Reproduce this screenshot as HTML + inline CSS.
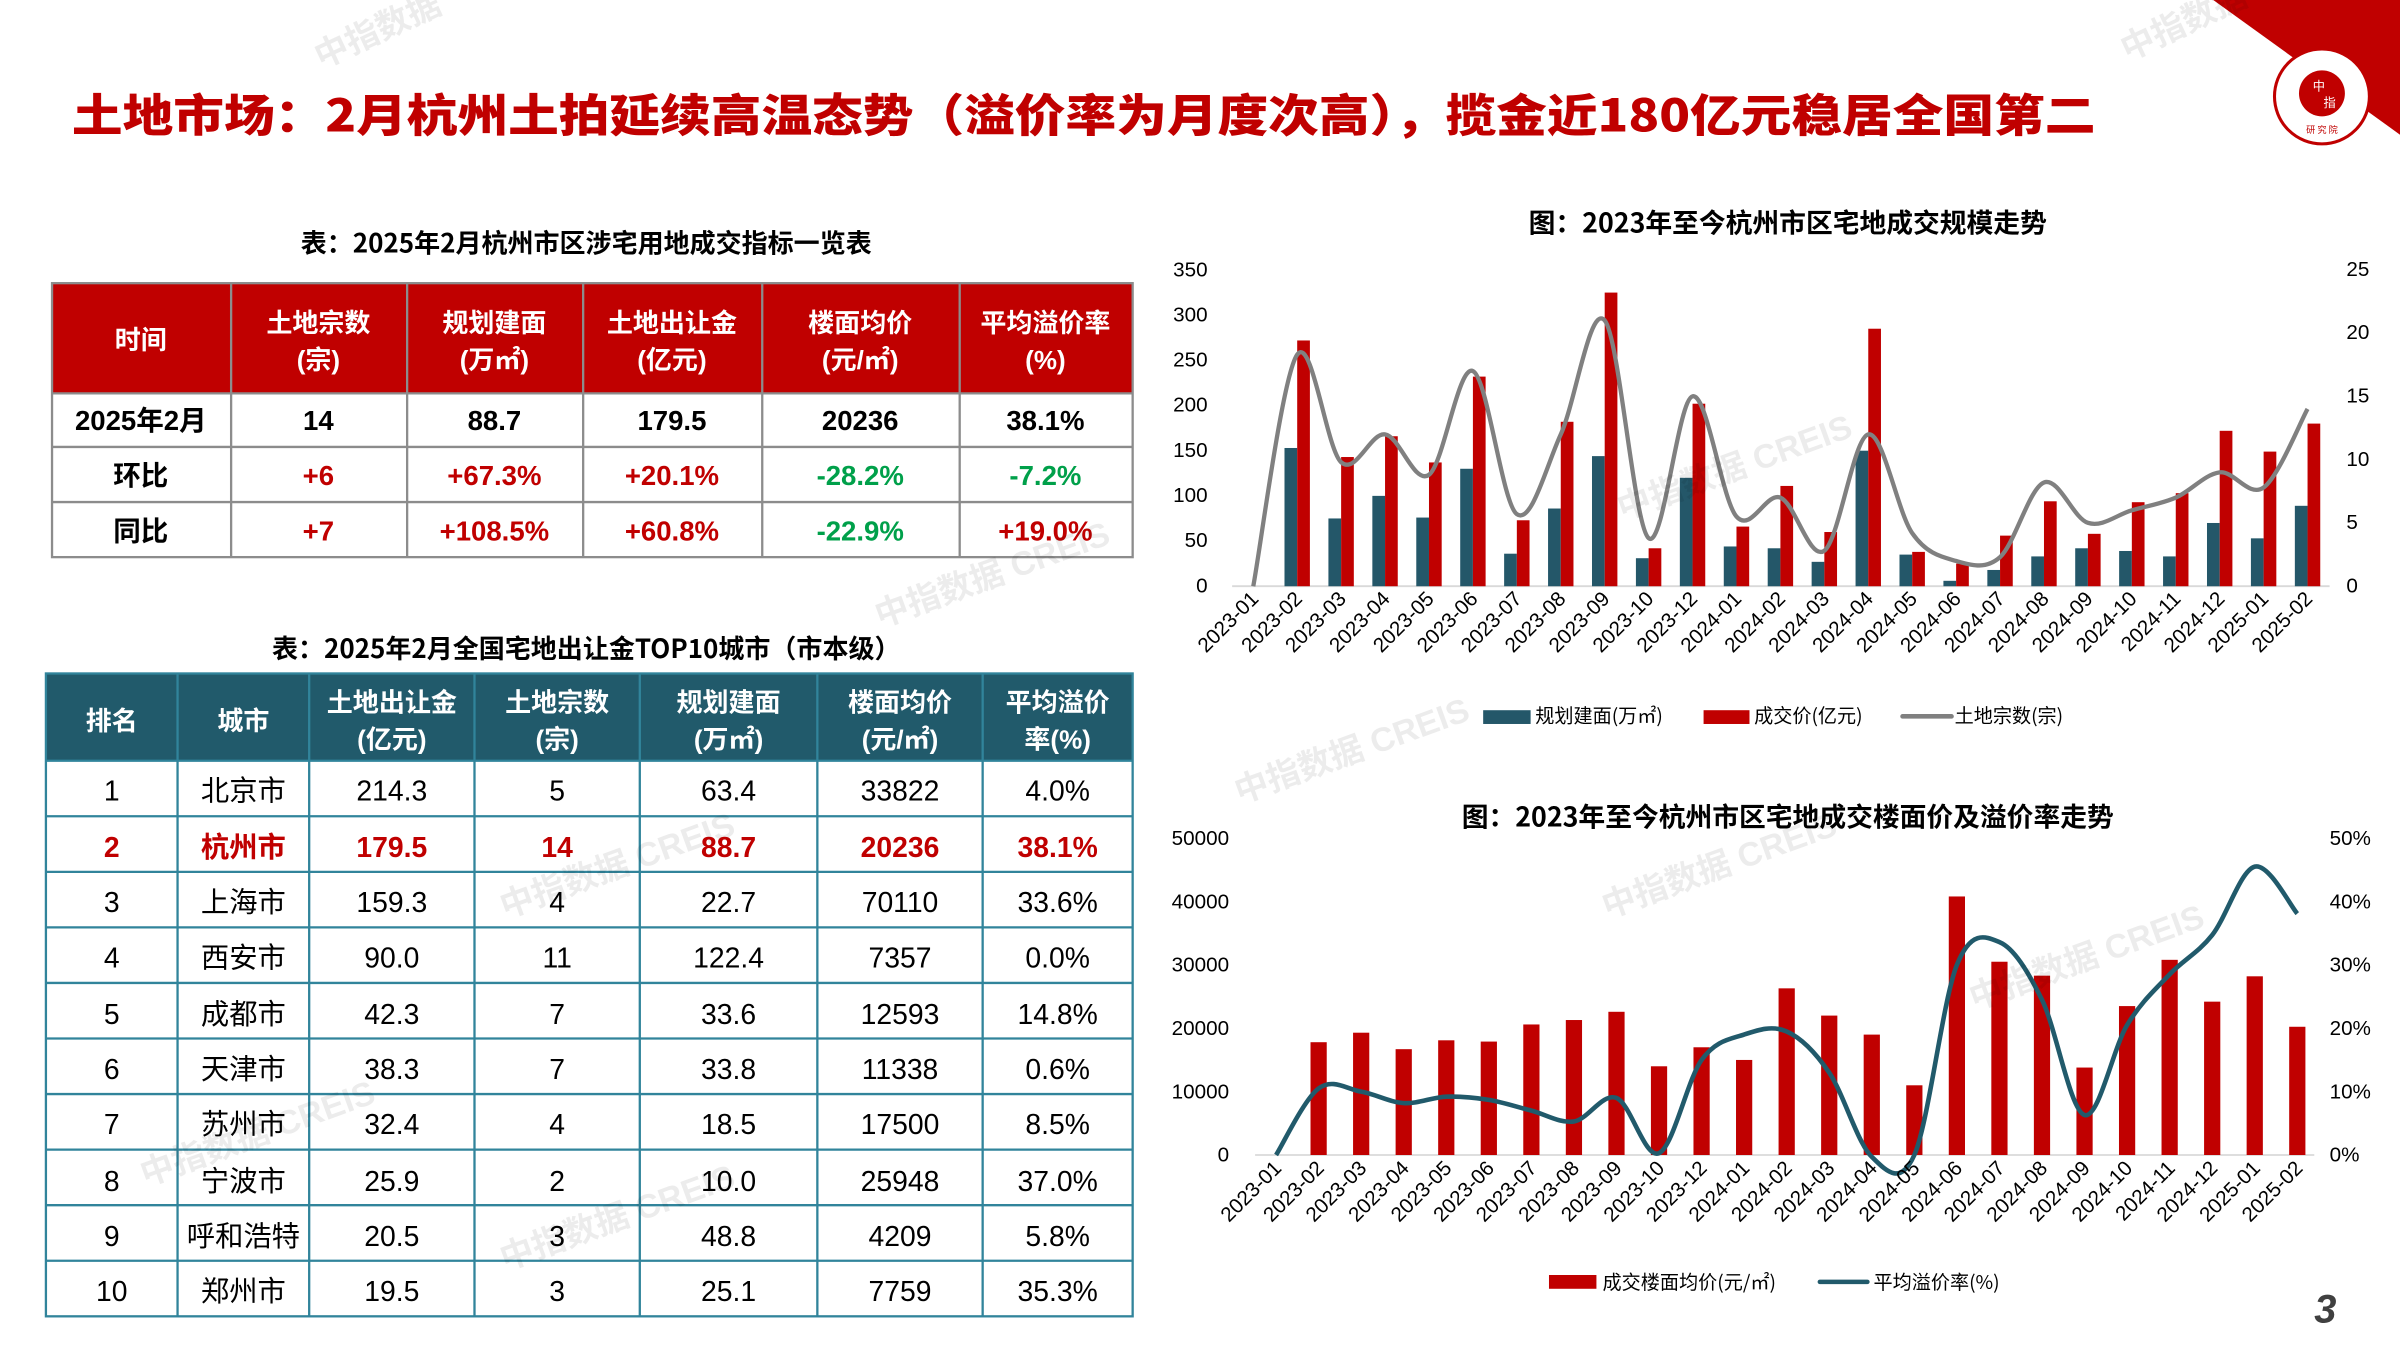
<!DOCTYPE html>
<html><head><meta charset="utf-8"><style>
html,body{margin:0;padding:0;background:#fff;}
svg{display:block;}
text{font-family:"Liberation Sans","Noto Sans CJK SC",sans-serif;}
.cjk{font-family:"Noto Sans CJK SC","Liberation Sans",sans-serif;}
.ax{font-size:13.5px;fill:#000;}
.xl{font-size:13.5px;fill:#000;}
.th{font-size:17px;font-weight:bold;fill:#fff;}
.t1{font-size:18px;font-weight:bold;fill:#000;}
.t2{font-size:18.5px;fill:#000;font-family:"Liberation Sans Narrow","Liberation Sans","Noto Sans CJK SC",sans-serif;}
.wm{font-size:22px;font-weight:bold;fill:#000;opacity:0.07;}
</style></head><body>
<svg id="s" width="2400" height="1350" viewBox="0 0 1568 882" xmlns="http://www.w3.org/2000/svg">
<rect width="1568" height="882" fill="#fff"/>
<!-- corner -->
<polygon points="1446,0 1568,0 1568,88" fill="#c00000"/>
<circle cx="1517" cy="63" r="31" fill="#fff" stroke="#c00000" stroke-width="2"/>
<circle cx="1517" cy="61" r="15" fill="#c00000"/>
<text x="1517" y="87" font-size="6" fill="#c00000" text-anchor="middle" class="cjk">研 究 院</text>
<text x="1511" y="59" font-size="8" fill="#fff" class="cjk">中</text>
<text x="1518" y="70" font-size="8" fill="#fff" class="cjk">指</text>
<!-- title -->
<text x="47" y="86" class="cjk" font-size="29.5" font-weight="900" fill="#c00000" textLength="1322" lengthAdjust="spacingAndGlyphs">土地市场：2月杭州土拍延续高温态势（溢价率为月度次高），揽金近180亿元稳居全国第二</text>

<!-- TABLE 1 -->
<text x="383" y="165" class="cjk" font-size="17" font-weight="bold" text-anchor="middle">表：2025年2月杭州市区涉宅用地成交指标一览表</text>
<rect x="34" y="185" width="706" height="72" fill="#c00000"/>
<g stroke="#8c8c8c" stroke-width="1.5" fill="none">
<rect x="34" y="185" width="706" height="179"/>
<line x1="34" y1="257" x2="740" y2="257"/><line x1="34" y1="292" x2="740" y2="292"/><line x1="34" y1="328" x2="740" y2="328"/>
<line x1="151" y1="185" x2="151" y2="364"/><line x1="266" y1="185" x2="266" y2="364"/><line x1="381" y1="185" x2="381" y2="364"/><line x1="498" y1="185" x2="498" y2="364"/><line x1="627" y1="185" x2="627" y2="364"/>
</g>
<g class="cjk" text-anchor="middle">
<text x="92" y="228" class="th">时间</text>
<text x="208" y="217" class="th">土地宗数</text><text x="208" y="241" class="th">(宗)</text>
<text x="323" y="217" class="th">规划建面</text><text x="323" y="241" class="th">(万㎡)</text>
<text x="439" y="217" class="th">土地出让金</text><text x="439" y="241" class="th">(亿元)</text>
<text x="562" y="217" class="th">楼面均价</text><text x="562" y="241" class="th">(元/㎡)</text>
<text x="683" y="217" class="th">平均溢价率</text><text x="683" y="241" class="th">(%)</text>
<text x="92" y="281" class="t1">2025年2月</text>
<text x="208" y="281" class="t1">14</text><text x="323" y="281" class="t1">88.7</text><text x="439" y="281" class="t1">179.5</text><text x="562" y="281" class="t1">20236</text><text x="683" y="281" class="t1">38.1%</text>
<text x="92" y="317" class="t1">环比</text>
<text x="208" y="317" class="t1" style="fill:#c00000">+6</text><text x="323" y="317" class="t1" style="fill:#c00000">+67.3%</text><text x="439" y="317" class="t1" style="fill:#c00000">+20.1%</text><text x="562" y="317" class="t1" style="fill:#00a04a">-28.2%</text><text x="683" y="317" class="t1" style="fill:#00a04a">-7.2%</text>
<text x="92" y="353" class="t1">同比</text>
<text x="208" y="353" class="t1" style="fill:#c00000">+7</text><text x="323" y="353" class="t1" style="fill:#c00000">+108.5%</text><text x="439" y="353" class="t1" style="fill:#c00000">+60.8%</text><text x="562" y="353" class="t1" style="fill:#00a04a">-22.9%</text><text x="683" y="353" class="t1" style="fill:#c00000">+19.0%</text>
</g>

<!-- TABLE 2 -->
<text x="383" y="430" class="cjk" font-size="17" font-weight="bold" text-anchor="middle">表：2025年2月全国宅地出让金TOP10城市（市本级）</text>
<rect x="30" y="440" width="710" height="57" fill="#215a6b"/>
<g id="t2lines" stroke="#31849b" stroke-width="1.5" fill="none">
<rect x="30" y="440" width="710" height="420"/>
<line x1="116" y1="440" x2="116" y2="860"/><line x1="202" y1="440" x2="202" y2="860"/><line x1="310" y1="440" x2="310" y2="860"/><line x1="418" y1="440" x2="418" y2="860"/><line x1="534" y1="440" x2="534" y2="860"/><line x1="642" y1="440" x2="642" y2="860"/>
</g>
<g class="cjk" text-anchor="middle">
<text x="73" y="477" class="th">排名</text>
<text x="159" y="477" class="th">城市</text>
<text x="256" y="465" class="th">土地出让金</text><text x="256" y="489" class="th">(亿元)</text>
<text x="364" y="465" class="th">土地宗数</text><text x="364" y="489" class="th">(宗)</text>
<text x="476" y="465" class="th">规划建面</text><text x="476" y="489" class="th">(万㎡)</text>
<text x="588" y="465" class="th">楼面均价</text><text x="588" y="489" class="th">(元/㎡)</text>
<text x="691" y="465" class="th">平均溢价</text><text x="691" y="489" class="th">率(%)</text>
</g>

<!-- CHART 1 -->
<text x="1168" y="152" class="cjk" font-size="17.5" font-weight="bold" text-anchor="middle">图：2023年至今杭州市区宅地成交规模走势</text>
<line x1="805" y1="383" x2="1522" y2="383" stroke="#d9d9d9" stroke-width="1.2"/>
<g id="c1"></g>
<g class="ax" text-anchor="end">
<text x="789" y="387">0</text><text x="789" y="357.5">50</text><text x="789" y="328">100</text><text x="789" y="298.5">150</text><text x="789" y="269">200</text><text x="789" y="239.5">250</text><text x="789" y="210">300</text><text x="789" y="180.5">350</text>
</g>
<g class="ax">
<text x="1533" y="387">0</text><text x="1533" y="345.6">5</text><text x="1533" y="304.3">10</text><text x="1533" y="263">15</text><text x="1533" y="221.6">20</text><text x="1533" y="180.3">25</text>
</g>
<rect x="969" y="464" width="31" height="9" fill="#245769"/>
<text x="1003" y="472" class="cjk" font-size="12.5">规划建面(万㎡)</text>
<rect x="1113" y="464" width="30" height="9" fill="#c00000"/>
<text x="1146" y="472" class="cjk" font-size="12.5">成交价(亿元)</text>
<line x1="1243" y1="468" x2="1275" y2="468" stroke="#808080" stroke-width="3" stroke-linecap="round"/>
<text x="1277" y="472" class="cjk" font-size="12.5">土地宗数(宗)</text>

<!-- CHART 2 -->
<text x="1168" y="540" class="cjk" font-size="17.5" font-weight="bold" text-anchor="middle">图：2023年至今杭州市区宅地成交楼面价及溢价率走势</text>
<line x1="820" y1="754.6" x2="1512" y2="754.6" stroke="#d9d9d9" stroke-width="1.2"/>
<g id="c2"></g>
<g class="ax" text-anchor="end">
<text x="803" y="759">0</text><text x="803" y="717.6">10000</text><text x="803" y="676.2">20000</text><text x="803" y="634.8">30000</text><text x="803" y="593.4">40000</text><text x="803" y="552">50000</text>
</g>
<g class="ax">
<text x="1522" y="759">0%</text><text x="1522" y="717.6">10%</text><text x="1522" y="676.2">20%</text><text x="1522" y="634.8">30%</text><text x="1522" y="593.4">40%</text><text x="1522" y="552">50%</text>
</g>
<rect x="1012" y="833" width="31" height="9" fill="#c00000"/>
<text x="1047" y="842" class="cjk" font-size="12.5">成交楼面均价(元/㎡)</text>
<line x1="1189" y1="837.5" x2="1220" y2="837.5" stroke="#215a6b" stroke-width="3" stroke-linecap="round"/>
<text x="1224" y="842" class="cjk" font-size="12.5">平均溢价率(%)</text>

<text x="1512" y="864" font-size="26" font-weight="bold" font-style="italic" fill="#404040">3</text>

<!-- watermarks -->
<g class="cjk">
<text class="wm" transform="translate(210,45) rotate(-25)" font-size="13">中指数据</text>
<text class="wm" transform="translate(1390,40) rotate(-25)" font-size="13">中指数据</text>
<text class="wm" transform="translate(575,410) rotate(-20)">中指数据 CREIS</text>
<text class="wm" transform="translate(810,525) rotate(-20)">中指数据 CREIS</text>
<text class="wm" transform="translate(1050,600) rotate(-20)">中指数据 CREIS</text>
<text class="wm" transform="translate(1290,660) rotate(-20)">中指数据 CREIS</text>
<text class="wm" transform="translate(330,600) rotate(-20)">中指数据 CREIS</text>
<text class="wm" transform="translate(330,830) rotate(-20)">中指数据 CREIS</text>
<text class="wm" transform="translate(1060,340) rotate(-20)">中指数据 CREIS</text>
<text class="wm" transform="translate(95,775) rotate(-20)">中指数据 CREIS</text>
</g>

<!-- static x labels -->
<g class="xl" text-anchor="end">
<text transform="translate(823,392) rotate(-45)">2023-01</text>
<text transform="translate(851.5,392) rotate(-45)">2023-02</text>
<text transform="translate(880.2,392) rotate(-45)">2023-03</text>
<text transform="translate(908.9,392) rotate(-45)">2023-04</text>
<text transform="translate(937.6,392) rotate(-45)">2023-05</text>
<text transform="translate(966.3,392) rotate(-45)">2023-06</text>
<text transform="translate(995,392) rotate(-45)">2023-07</text>
<text transform="translate(1023.7,392) rotate(-45)">2023-08</text>
<text transform="translate(1052.4,392) rotate(-45)">2023-09</text>
<text transform="translate(1081.1,392) rotate(-45)">2023-10</text>
<text transform="translate(1109.8,392) rotate(-45)">2023-12</text>
<text transform="translate(1138.5,392) rotate(-45)">2024-01</text>
<text transform="translate(1167.2,392) rotate(-45)">2024-02</text>
<text transform="translate(1195.9,392) rotate(-45)">2024-03</text>
<text transform="translate(1224.6,392) rotate(-45)">2024-04</text>
<text transform="translate(1253.3,392) rotate(-45)">2024-05</text>
<text transform="translate(1282,392) rotate(-45)">2024-06</text>
<text transform="translate(1310.7,392) rotate(-45)">2024-07</text>
<text transform="translate(1339.4,392) rotate(-45)">2024-08</text>
<text transform="translate(1368.1,392) rotate(-45)">2024-09</text>
<text transform="translate(1396.8,392) rotate(-45)">2024-10</text>
<text transform="translate(1425.5,392) rotate(-45)">2024-11</text>
<text transform="translate(1454.2,392) rotate(-45)">2024-12</text>
<text transform="translate(1482.9,392) rotate(-45)">2025-01</text>
<text transform="translate(1511.6,392) rotate(-45)">2025-02</text>
</g>
<g class="xl" text-anchor="end">
<text transform="translate(838,764) rotate(-45)">2023-01</text>
<text transform="translate(865.8,764) rotate(-45)">2023-02</text>
<text transform="translate(893.6,764) rotate(-45)">2023-03</text>
<text transform="translate(921.4,764) rotate(-45)">2023-04</text>
<text transform="translate(949.2,764) rotate(-45)">2023-05</text>
<text transform="translate(977,764) rotate(-45)">2023-06</text>
<text transform="translate(1004.8,764) rotate(-45)">2023-07</text>
<text transform="translate(1032.6,764) rotate(-45)">2023-08</text>
<text transform="translate(1060.4,764) rotate(-45)">2023-09</text>
<text transform="translate(1088.2,764) rotate(-45)">2023-10</text>
<text transform="translate(1116,764) rotate(-45)">2023-12</text>
<text transform="translate(1143.8,764) rotate(-45)">2024-01</text>
<text transform="translate(1171.6,764) rotate(-45)">2024-02</text>
<text transform="translate(1199.4,764) rotate(-45)">2024-03</text>
<text transform="translate(1227.2,764) rotate(-45)">2024-04</text>
<text transform="translate(1255,764) rotate(-45)">2024-05</text>
<text transform="translate(1282.8,764) rotate(-45)">2024-06</text>
<text transform="translate(1310.6,764) rotate(-45)">2024-07</text>
<text transform="translate(1338.4,764) rotate(-45)">2024-08</text>
<text transform="translate(1366.2,764) rotate(-45)">2024-09</text>
<text transform="translate(1394,764) rotate(-45)">2024-10</text>
<text transform="translate(1421.8,764) rotate(-45)">2024-11</text>
<text transform="translate(1449.6,764) rotate(-45)">2024-12</text>
<text transform="translate(1477.4,764) rotate(-45)">2025-01</text>
<text transform="translate(1505.2,764) rotate(-45)">2025-02</text>
</g>

<!-- table 2 body -->
<g class="t2" text-anchor="middle">
<text x="73" y="523">1</text><text x="159" y="523" class="cjk">北京市</text><text x="256" y="523">214.3</text><text x="364" y="523">5</text><text x="476" y="523">63.4</text><text x="588" y="523">33822</text><text x="691" y="523">4.0%</text>
<g style="font-weight:bold">
<text x="73" y="560" style="fill:#c00000">2</text><text x="159" y="560" class="cjk" style="fill:#c00000">杭州市</text><text x="256" y="560" style="fill:#c00000">179.5</text><text x="364" y="560" style="fill:#c00000">14</text><text x="476" y="560" style="fill:#c00000">88.7</text><text x="588" y="560" style="fill:#c00000">20236</text><text x="691" y="560" style="fill:#c00000">38.1%</text>
</g>
<text x="73" y="596">3</text><text x="159" y="596" class="cjk">上海市</text><text x="256" y="596">159.3</text><text x="364" y="596">4</text><text x="476" y="596">22.7</text><text x="588" y="596">70110</text><text x="691" y="596">33.6%</text>
<text x="73" y="632">4</text><text x="159" y="632" class="cjk">西安市</text><text x="256" y="632">90.0</text><text x="364" y="632">11</text><text x="476" y="632">122.4</text><text x="588" y="632">7357</text><text x="691" y="632">0.0%</text>
<text x="73" y="669">5</text><text x="159" y="669" class="cjk">成都市</text><text x="256" y="669">42.3</text><text x="364" y="669">7</text><text x="476" y="669">33.6</text><text x="588" y="669">12593</text><text x="691" y="669">14.8%</text>
<text x="73" y="705">6</text><text x="159" y="705" class="cjk">天津市</text><text x="256" y="705">38.3</text><text x="364" y="705">7</text><text x="476" y="705">33.8</text><text x="588" y="705">11338</text><text x="691" y="705">0.6%</text>
<text x="73" y="741">7</text><text x="159" y="741" class="cjk">苏州市</text><text x="256" y="741">32.4</text><text x="364" y="741">4</text><text x="476" y="741">18.5</text><text x="588" y="741">17500</text><text x="691" y="741">8.5%</text>
<text x="73" y="778">8</text><text x="159" y="778" class="cjk">宁波市</text><text x="256" y="778">25.9</text><text x="364" y="778">2</text><text x="476" y="778">10.0</text><text x="588" y="778">25948</text><text x="691" y="778">37.0%</text>
<text x="73" y="814">9</text><text x="159" y="814" class="cjk">呼和浩特</text><text x="256" y="814">20.5</text><text x="364" y="814">3</text><text x="476" y="814">48.8</text><text x="588" y="814">4209</text><text x="691" y="814">5.8%</text>
<text x="73" y="850">10</text><text x="159" y="850" class="cjk">郑州市</text><text x="256" y="850">19.5</text><text x="364" y="850">3</text><text x="476" y="850">25.1</text><text x="588" y="850">7759</text><text x="691" y="850">35.3%</text>
</g>
</svg>
<script>
(function(){
var NS="http://www.w3.org/2000/svg";
function el(p,t,a){var e=document.createElementNS(NS,t);for(var k in a)e.setAttribute(k,a[k]);p.appendChild(e);return e;}
var tl=document.getElementById("t2lines");
for(var r=0;r<10;r++){var y=497+r*36.3;el(tl,"line",{x1:30,y1:y,x2:740,y2:y});}
function smooth(pts){var d="M"+pts[0][0]+","+pts[0][1];
for(var i=0;i<pts.length-1;i++){var p0=pts[i-1]||pts[i],p1=pts[i],p2=pts[i+1],p3=pts[i+2]||p2;
var c1x=p1[0]+(p2[0]-p0[0])/6,c1y=p1[1]+(p2[1]-p0[1])/6,c2x=p2[0]-(p3[0]-p1[0])/6,c2y=p2[1]-(p3[1]-p1[1])/6;
d+=" C"+c1x.toFixed(1)+","+c1y.toFixed(1)+" "+c2x.toFixed(1)+","+c2y.toFixed(1)+" "+p2[0].toFixed(1)+","+p2[1].toFixed(1);}return d;}
var g1=document.getElementById("c1");
var blue=[0,153,75,100,76,130,36,86,144,31,120,44,42,27,150,35,6,18,33,42,39,33,70,53,89];
var red=[0,272,143,166,137,232,73,182,325,42,202,66,111,60,285,38,25,56,94,58,93,103,172,149,180];
var cnt=[0,18.3,9.8,12,8.8,17,5.7,12,21,3.8,15,5.5,7,2.8,12,4.2,2,2.3,8.2,5,6,7,9,7.8,14];
var y0=383,s1=0.5903,s2=8.27,pts=[];
for(var i=0;i<25;i++){var cx=818.8+28.7*i;
if(blue[i])el(g1,"rect",{x:cx-8.3,y:y0-blue[i]*s1,width:8.3,height:blue[i]*s1,fill:"#245769"});
if(red[i])el(g1,"rect",{x:cx,y:y0-red[i]*s1,width:8.3,height:red[i]*s1,fill:"#c00000"});
pts.push([cx,y0-cnt[i]*s2]);}
el(g1,"path",{d:smooth(pts),fill:"none",stroke:"#808080","stroke-width":2.8,"stroke-linejoin":"round"});
var g2=document.getElementById("c2");
var pr=[0,17800,19300,16700,18100,17900,20600,21300,22600,14000,17000,15000,26300,22000,19000,11000,40800,30500,28300,13800,23500,30800,24200,28200,20236];
var rt=[0,10.5,10,8.2,9.2,8.7,7,5.3,9,0.3,15,19,19.5,13,-0.3,0,30,33.6,24.5,6.3,20.5,28.5,34.7,45.5,38.1];
var b0=754.6,k1=207/50000,k2=207/50,p2=[];
for(var i=0;i<25;i++){var cx=833.7+27.8*i;
if(pr[i])el(g2,"rect",{x:cx-5.3,y:b0-pr[i]*k1,width:10.6,height:pr[i]*k1,fill:"#c00000"});
p2.push([cx,b0-rt[i]*k2]);}
el(g2,"path",{d:smooth(p2),fill:"none",stroke:"#215a6b","stroke-width":3,"stroke-linejoin":"round"});
})();
</script>
</body></html>
